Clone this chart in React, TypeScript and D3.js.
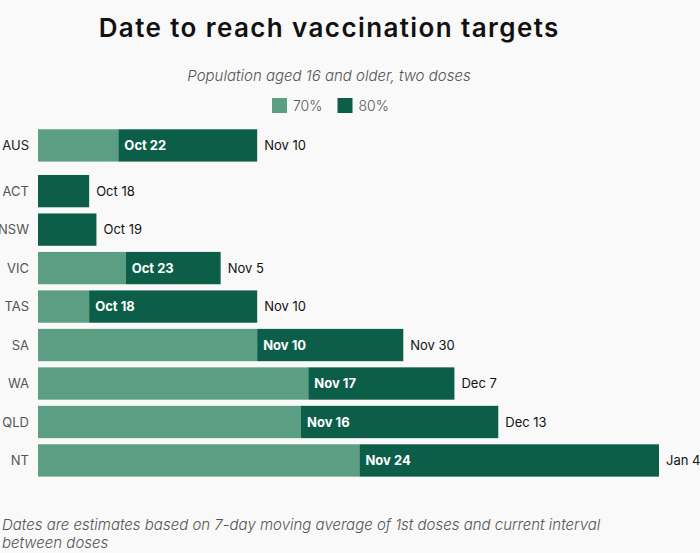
import React from "react";
import * as d3 from "d3";

const regions = ["AUS", "ACT", "NSW", "VIC", "TAS", "SA", "WA", "QLD", "NT"];
const date70 = [
  "2021-10-22", null, null, "2021-10-23", "2021-10-18",
  "2021-11-10", "2021-11-17", "2021-11-16", "2021-11-24",
];
const date80 = [
  "2021-11-10", "2021-10-18", "2021-10-19", "2021-11-05", "2021-11-10",
  "2021-11-30", "2021-12-07", "2021-12-13", "2022-01-04",
];
const startDate = "2021-10-11";
const endDate = "2022-01-04";
const legendLabels = ["70%", "80%"];

const W = 700;
const H = 553;
const LIGHT = "#5b9e83";
const DARK = "#0c5e48";
const FONT = "Inter, 'Noto Sans', sans-serif";

const parse = d3.utcParse("%Y-%m-%d");
const fmt = d3.utcFormat("%b %-d");

export default function App() {
  const x = d3
    .scaleUtc()
    .domain([parse(startDate)!, parse(endDate)!])
    .range([38, 659]);

  const states = regions.slice(1);
  const yState = d3
    .scaleBand<string>()
    .domain(states)
    .range([171.9, 479.7])
    .paddingInner(0.16)
    .paddingOuter(0.08);
  const bh = yState.bandwidth();
  const yPos = (r: string) =>
    r === "AUS" ? (yState(states[0]) as number) - 45.7 : (yState(r) as number);

  const legendColors = [LIGHT, DARK];
  const legendX = [272, 337.5];

  return (
    <div style={{ position: "absolute", left: 0, top: 0 }}>
      <svg width={W} height={H} style={{ display: "block", background: "#f9f9f9" }}>
        <text
          x={329.2}
          y={37}
          textAnchor="middle"
          fontFamily={FONT}
          fontWeight={600}
          fontSize={26}
          letterSpacing={1.4}
          fill="#111"
        >
          Date to reach vaccination targets
        </text>
        <text
          x={329}
          y={80.5}
          textAnchor="middle"
          fontFamily={FONT}
          fontStyle="italic"
          fontWeight={300}
          fontSize={15}
          fill="#555"
        >
          Population aged 16 and older, two doses
        </text>
        {legendLabels.map((l, i) => (
          <g key={l}>
            <rect x={legendX[i]} y={98} width={15} height={15} fill={legendColors[i]} />
            <text
              x={legendX[i] + 21}
              y={110.5}
              fontFamily={FONT}
              fontWeight={300}
              fontSize={14}
              fill="#555"
            >
              {l}
            </text>
          </g>
        ))}
        {regions.map((r, i) => {
          const y0 = yPos(r);
          const cy = y0 + bh / 2;
          const d7 = date70[i] ? parse(date70[i] as string)! : null;
          const d8 = parse(date80[i])!;
          const x0 = x.range()[0];
          const xm = d7 ? x(d7) : x0;
          const xe = x(d8);
          return (
            <g key={r}>
              <text
                x={29}
                y={cy}
                dy="0.35em"
                textAnchor="end"
                fontFamily={FONT}
                fontSize={13}
                fill={r === "AUS" ? "#222" : "#555"}
              >
                {r}
              </text>
              {d7 && <rect x={x0} y={y0} width={xm - x0} height={bh} fill={LIGHT} />}
              <rect x={xm} y={y0} width={xe - xm} height={bh} fill={DARK} />
              {d7 && (
                <text
                  x={xm + 6}
                  y={cy}
                  dy="0.35em"
                  fontFamily={FONT}
                  fontWeight={700}
                  fontSize={13}
                  fill="#fff"
                >
                  {fmt(d7)}
                </text>
              )}
              <text
                x={xe + 7}
                y={cy}
                dy="0.35em"
                fontFamily={FONT}
                fontSize={13}
                fill="#111"
              >
                {fmt(d8)}
              </text>
            </g>
          );
        })}
        <text
          x={2}
          y={530}
          fontFamily={FONT}
          fontStyle="italic"
          fontWeight={300}
          fontSize={15}
          fill="#555"
        >
          <tspan x={2}>Dates are estimates based on 7-day moving average of 1st doses and current interval</tspan>
          <tspan x={2} dy={17.5}>between doses</tspan>
        </text>
      </svg>
    </div>
  );
}
